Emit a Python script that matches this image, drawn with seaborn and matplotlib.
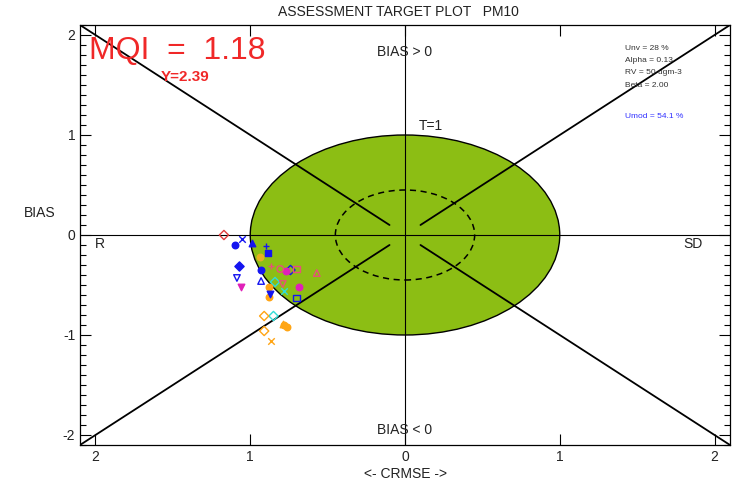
import matplotlib
matplotlib.use("Agg")
import matplotlib.pyplot as plt
from matplotlib.patches import Circle
from matplotlib.ticker import FixedLocator, MultipleLocator
import pandas as pd
import seaborn as sns

sns.set_theme(style="ticks")
plt.rcParams["font.family"] = ["Liberation Sans", "DejaVu Sans"]

# Station results: normalised CRMSE (negative = R dominated) and normalised BIAS
crmse = [-1.17, -1.055, -1.10, -0.99, -1.075, -0.90, -0.886, -0.93, -0.74, -1.086,
         -0.93, -0.87, -0.70, -0.865, -0.806, -0.70, -0.57, -0.79, -0.77, -0.686,
         -1.06, -0.84, -0.78, -0.85, -0.91, -0.78, -0.76, -0.79, -0.91, -0.866,
         -0.94, -0.88, -0.88]
bias = [0.00, -0.04, -0.10, -0.08, -0.31, -0.11, -0.18, -0.35, -0.35, -0.43,
        -0.46, -0.59, -0.63, -0.31, -0.34, -0.34, -0.38, -0.49, -0.36, -0.52,
        -0.52, -0.47, -0.56, -0.81, -0.81, -0.90, -0.92, -0.89, -0.96, -1.06,
        -0.22, -0.52, -0.62]
marker = ["D", "x", "o", "^", "D", "+", "s", "o", "D", "v",
          "^", "v", "s", "+", "o", "s", "^", "v", "o", "o",
          "v", "D", "x", "D", "D", "o", "o", "^", "D", "x",
          "o", "o", "o"]
colour = ["#e03c3c", "#1414f0", "#1414f0", "#1414f0", "#1414f0", "#1414f0", "#1414f0", "#1414f0", "#1414f0", "#1414f0",
          "#1414f0", "#1414f0", "#1414f0", "#e8507a", "#e8507a", "#e8507a", "#e8507a", "#e8507a", "#e020b8", "#e020b8",
          "#e020b8", "#30dcd8", "#30dcd8", "#30dcd8", "#ffa514", "#ffa514", "#ffa514", "#ffa514", "#ffa514", "#ffa514",
          "#e8b020", "#ffa514", "#ffa514"]
filled = [False, True, True, True, True, True, True, True, False, False,
          False, True, False, True, False, False, False, False, True, True,
          True, False, True, False, False, True, True, True, False, True,
          True, True, True]

# Summary figures
mqi_text = "MQI  =  1.18"
y_text = "Y=2.39"
params = ["Unv = 28 %", "Alpha = 0.13", "RV = 50 ugm-3", "Beta = 2.00"]
umod_text = "Umod = 54.1 %"
xtick_pos = [-2, -1, 0, 1, 2]
xtick_lab = ["2", "1", "0", "1", "2"]
ytick_pos = [-2, -1, 0, 1, 2]
ytick_lab = ["-2", "-1", "0", "1", "2"]

LIM = 2.1

fig = plt.figure(figsize=(7.39, 4.83), dpi=100)
ax = fig.add_axes([80 / 739, 1 - 445 / 483, 650 / 739, 420 / 483])
ax.set_xlim(-LIM, LIM)
ax.set_ylim(-LIM, LIM)

# Target circle (T = 1) and inner dashed circle
ax.add_patch(Circle((0, 0), 1.0, facecolor="#8cbe14", edgecolor="black", lw=1.0, zorder=1))
ax.add_patch(Circle((0, 0), 0.45, facecolor="none", edgecolor="black", lw=1.1,
                    ls=(0, (4, 3)), zorder=3))

# Axes cross and diagonal separators
ax.axhline(0, color="black", lw=0.8, zorder=2)
ax.axvline(0, color="black", lw=0.8, zorder=2)
for sx in (-1, 1):
    for sy in (-1, 1):
        ax.plot([sx * LIM, sx * 0.1], [sy * LIM, sy * 0.1], color="black", lw=1.3, zorder=2)

# Station markers
df = pd.DataFrame({"crmse": crmse, "bias": bias, "marker": marker,
                   "colour": colour, "filled": filled})
for (m, c, f), grp in df.groupby(["marker", "colour", "filled"]):
    kws = dict(marker=m, s=22, linewidth=1.0, zorder=5, legend=False)
    if m in ("x", "+"):
        kws.update(color=c)
    elif f:
        kws.update(color=c, edgecolor=c)
    else:
        kws.update(color=c, facecolor="none", edgecolor=c)
    sns.scatterplot(data=grp, x="crmse", y="bias", ax=ax, **kws)

ax.set_xlabel("")
ax.set_ylabel("")

# Ticks
ax.xaxis.set_major_locator(FixedLocator(xtick_pos))
ax.set_xticklabels(xtick_lab)
ax.yaxis.set_major_locator(FixedLocator(ytick_pos))
ax.set_yticklabels(ytick_lab)
ax.yaxis.set_minor_locator(MultipleLocator(0.1))
ax.tick_params(axis="both", which="both", direction="in", top=True, right=True,
               colors="black", labelsize=10, labelcolor="#222222")
ax.tick_params(which="major", length=8, width=0.8)
ax.tick_params(which="minor", length=4, width=0.8)
for sp in ax.spines.values():
    sp.set_color("black")
    sp.set_linewidth(0.9)

# Labels inside the plot
tk = dict(color="#222222", fontsize=10)
ax.text(0, 1.83, "BIAS > 0", ha="center", va="center", **tk)
ax.text(0, -1.95, "BIAS < 0", ha="center", va="center", **tk)
ax.text(0.17, 1.09, "T=1", ha="center", va="center", **tk)
ax.text(-1.97, -0.09, "R", ha="center", va="center", **tk)
ax.text(1.86, -0.09, "SD", ha="center", va="center", **tk)

ax.text(-2.04, 1.84, mqi_text, color="#f02828", fontsize=23, ha="left", va="center", zorder=6)
ax.text(-1.58, 1.58, y_text, color="#f02828", fontsize=11, fontweight="bold",
        ha="left", va="center", zorder=6)

for i, t in enumerate(params):
    ax.text(1.42, 1.87 - 0.125 * i, t, fontsize=6, color="#333333", ha="left", va="center")
ax.text(1.42, 1.19, umod_text, fontsize=6, color="#3030ff", ha="left", va="center")

# Titles
fig.text(398 / 739, 1 - 12 / 483, "ASSESSMENT TARGET PLOT   PM10", ha="center", va="center",
         fontsize=10, color="#222222")
fig.text(405 / 739, 1 - 474 / 483, "<- CRMSE ->", ha="center", va="center",
         fontsize=10, color="#222222")
fig.text(40 / 739, 1 - 213 / 483, "BIAS", ha="center", va="center", fontsize=10, color="#222222")

fig.savefig("out.png", dpi=100, facecolor="white")
